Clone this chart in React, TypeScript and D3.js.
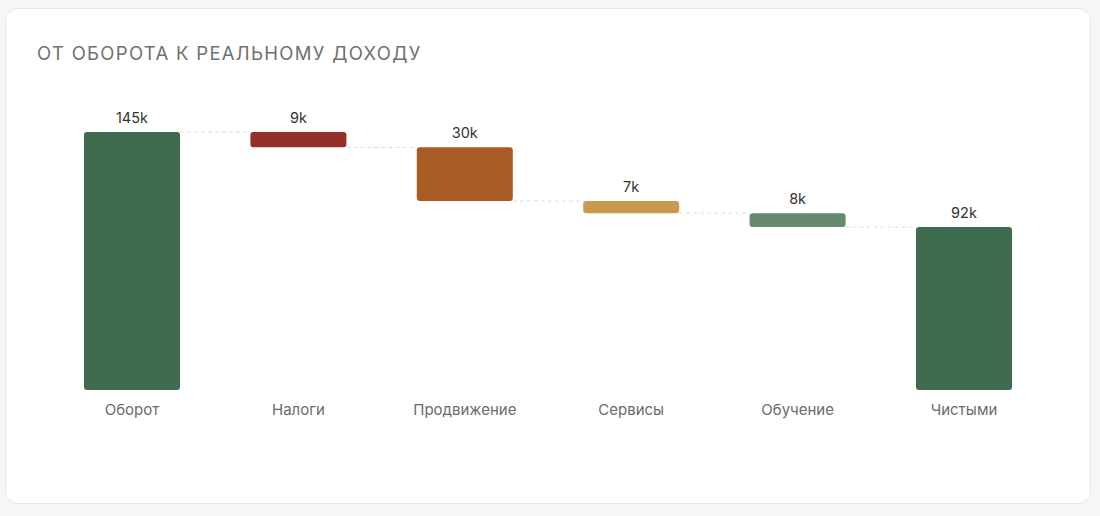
import * as d3 from 'd3';
import React, { useEffect, useRef } from 'react';

const title = "ОТ ОБОРОТА К РЕАЛЬНОМУ ДОХОДУ";
const categories = ["Оборот", "Налоги", "Продвижение", "Сервисы", "Обучение", "Чистыми"];
// start value, then deductions, then total
const turnover = 145;
const deductions = [8.6, 30.2, 6.8, 7.8];
const valueLabels = ["145k", "9k", "30k", "7k", "8k", "92k"];
const barColors = ["#3f6b4f", "#93302b", "#a85c24", "#c89a4e", "#668a6e", "#3f6b4f"];

type Step = { name: string; top: number; bottom: number; label: string; color: string };

const W = 1100;
const H = 516;

export default function App() {
  const svgRef = useRef<SVGSVGElement>(null);

  useEffect(() => {
    const svg = d3.select(svgRef.current);
    svg.selectAll("*").remove();

    const font = "Inter, 'Noto Sans', sans-serif";

    // build waterfall steps
    const steps: Step[] = [];
    let running = turnover;
    steps.push({ name: categories[0], top: turnover, bottom: 0, label: valueLabels[0], color: barColors[0] });
    deductions.forEach((d, i) => {
      steps.push({ name: categories[i + 1], top: running, bottom: running - d, label: valueLabels[i + 1], color: barColors[i + 1] });
      running -= d;
    });
    steps.push({ name: categories[5], top: running, bottom: 0, label: valueLabels[5], color: barColors[5] });

    // page + card
    svg.append("rect").attr("width", W).attr("height", H).attr("fill", "#f4f7f5");
    svg.append("rect")
      .attr("x", 5.5).attr("y", 8.5)
      .attr("width", 1085).attr("height", 495)
      .attr("rx", 12)
      .attr("fill", "#ffffff")
      .attr("stroke", "#e2e8e4");

    svg.append("text")
      .attr("x", 37).attr("y", 60)
      .attr("font-family", font)
      .attr("font-size", 18.5)
      .attr("font-weight", 400)
      .attr("letter-spacing", 1.3)
      .attr("fill", "#707070")
      .text(title);

    const x = d3.scaleBand<string>()
      .domain(categories)
      .range([84, 1012])
      .paddingInner(0.423)
      .paddingOuter(0);

    const y = d3.scaleLinear().domain([0, turnover]).range([390, 132]);

    const g = svg.append("g");

    // dashed connectors
    g.append("g")
      .selectAll("line")
      .data(steps.slice(0, -1))
      .join("line")
      .attr("x1", (d) => x(d.name)! + x.bandwidth())
      .attr("x2", (d, i) => x(steps[i + 1].name)!)
      .attr("y1", (d, i) => y(i === 0 ? d.top : d.bottom))
      .attr("y2", (d, i) => y(i === 0 ? d.top : d.bottom))
      .attr("stroke", "#dedede")
      .attr("stroke-width", 1)
      .attr("stroke-dasharray", "4,3");

    g.append("g")
      .selectAll("rect")
      .data(steps)
      .join("rect")
      .attr("x", (d) => x(d.name)!)
      .attr("y", (d) => y(d.top))
      .attr("width", x.bandwidth())
      .attr("height", (d) => y(d.bottom) - y(d.top))
      .attr("rx", 3)
      .attr("fill", (d) => d.color);

    g.append("g")
      .selectAll("text")
      .data(steps)
      .join("text")
      .attr("x", (d) => x(d.name)! + x.bandwidth() / 2)
      .attr("y", (d) => y(d.top) - 9)
      .attr("text-anchor", "middle")
      .attr("font-family", font)
      .attr("font-size", 14.5)
      .attr("fill", "#333333")
      .text((d) => d.label);

    const xAxis = d3.axisBottom(x).tickSize(0).tickPadding(0);
    const axisG = g.append("g")
      .attr("transform", `translate(0, 390)`)
      .call(xAxis);
    axisG.select(".domain").remove();
    axisG.selectAll("text")
      .attr("y", 25)
      .attr("dy", 0)
      .attr("font-family", font)
      .attr("font-size", 15)
      .attr("fill", "#6b6b6b");
  }, []);

  return (
    <div style={{ position: "fixed", left: 0, top: 0 }}>
      <svg ref={svgRef} width={W} height={H} style={{ display: "block" }} />
    </div>
  );
}
